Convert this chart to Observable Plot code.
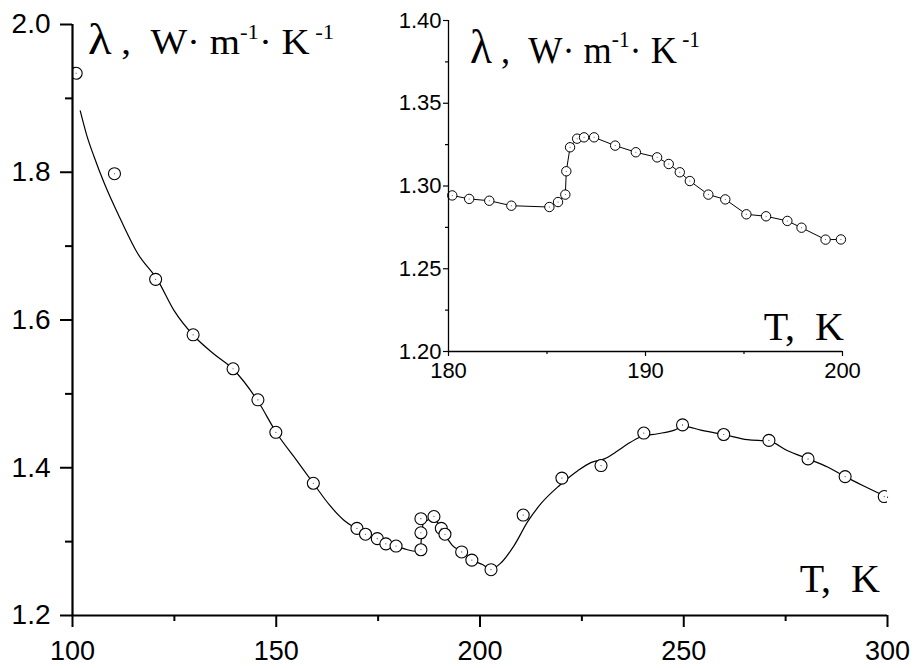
<!DOCTYPE html>
<html><head><meta charset="utf-8">
<script src="https://cdn.jsdelivr.net/npm/d3@7"></script>
<script src="https://cdn.jsdelivr.net/npm/@observablehq/plot@0.6"></script>
<style>
body{margin:0;background:#fff}
#wrap{position:relative;width:914px;height:668px;overflow:hidden}
#wrap svg{position:absolute}
</style>
</head><body><div id="wrap"></div>
<script>
// Main chart: measured points
const mainT = [100.9, 110.3, 120.4, 129.6, 139.4, 145.5, 149.9, 159.1, 169.8, 171.9, 174.8, 176.9, 179.4, 185.5, 185.5, 185.5, 188.7, 190.5, 191.4, 195.5, 198.0, 202.7, 210.6, 220.1, 229.7, 240.2, 249.7, 259.8, 270.9, 280.5, 289.6, 299.2];
const mainL = [1.934, 1.798, 1.655, 1.580, 1.534, 1.492, 1.448, 1.379, 1.318, 1.310, 1.304, 1.297, 1.294, 1.289, 1.312, 1.331, 1.334, 1.318, 1.310, 1.286, 1.275, 1.262, 1.336, 1.386, 1.403, 1.447, 1.458, 1.445, 1.437, 1.412, 1.388, 1.361];
// Main chart: fitted curve
const fitT = [101.9, 103.5, 105.3, 107.8, 111.9, 116.0, 120.9, 124.9, 129.7, 134.7, 139.3, 145.4, 150.2, 155.0, 159.1, 163.0, 166.6, 169.8, 172.0, 175.0, 178.0, 180.0, 182.2, 184.2, 185.3, 185.7, 186.1, 187.1, 188.7, 190.4, 192.0, 193.2, 195.7, 198.1, 200.6, 202.7, 205.1, 208.4, 211.7, 214.9, 219.5, 224.0, 227.2, 230.5, 233.8, 236.2, 239.5, 243.6, 247.7, 250.0, 254.2, 259.8, 265.6, 270.9, 275.5, 280.5, 285.3, 289.6, 294.3, 300.0];
const fitL = [1.883, 1.850, 1.821, 1.785, 1.735, 1.690, 1.654, 1.613, 1.579, 1.554, 1.534, 1.491, 1.446, 1.410, 1.379, 1.350, 1.329, 1.317, 1.309, 1.302, 1.296, 1.293, 1.289, 1.287, 1.287, 1.310, 1.326, 1.329, 1.332, 1.317, 1.304, 1.295, 1.286, 1.275, 1.269, 1.263, 1.271, 1.295, 1.327, 1.351, 1.376, 1.396, 1.407, 1.412, 1.423, 1.432, 1.442, 1.446, 1.451, 1.456, 1.451, 1.445, 1.438, 1.436, 1.423, 1.412, 1.401, 1.388, 1.375, 1.360];
// Inset chart points
const insetT = [180.19, 181.05, 182.07, 183.19, 185.12, 185.56, 185.93, 185.98, 186.17, 186.53, 186.88, 187.39, 188.46, 189.51, 190.59, 191.18, 191.74, 192.25, 193.19, 194.05, 195.12, 196.12, 197.2, 197.92, 199.14, 199.92];
const insetL = [1.2943, 1.2922, 1.2911, 1.2881, 1.2873, 1.2903, 1.2948, 1.3089, 1.3234, 1.3286, 1.3294, 1.3294, 1.3244, 1.3204, 1.3173, 1.3133, 1.3083, 1.3030, 1.2948, 1.2919, 1.2829, 1.2817, 1.2789, 1.2748, 1.2676, 1.2677];
// Ticks
const mainXTicks = [100, 150, 200, 250, 300];
const mainXMinor = [125, 175, 225, 275];
const mainYTicks = [1.2, 1.4, 1.6, 1.8, 2.0];
const mainYMinor = [1.3, 1.5, 1.7, 1.9];
const insetXTicks = [180, 190, 200];
const insetXMinor = [185, 195];
const insetYTicks = [1.20, 1.25, 1.30, 1.35, 1.40];
const insetYMinor = [1.225, 1.275, 1.325, 1.375];
// Labels
const yLabelParts = [["λ", "big"], [" ,  W· m", "norm"], ["-1", "sup"], ["· K", "norm"], [" -1", "sup"]];
const xLabel = "T,  K";

const mainPts = mainT.map((t, i) => ({t, l: mainL[i]}));
const fitPts = fitT.map((t, i) => ({t, l: fitL[i]}));
const insetPts = insetT.map((t, i) => ({t, l: insetL[i]}));

const wrap = document.getElementById("wrap");
const SANS = "'Liberation Sans', Arial, sans-serif";
const SERIF = "'Liberation Serif', 'Times New Roman', serif";

const main = Plot.plot({
  width: 914, height: 668,
  marginLeft: 72, marginRight: 27, marginTop: 24, marginBottom: 53,
  style: {fontFamily: SANS, fontSize: "27px", background: "white", color: "black", overflow: "visible"},
  x: {domain: [100, 300]},
  y: {domain: [1.2, 2.0]},
  marks: [
    Plot.line(fitPts, {x: "t", y: "l", stroke: "black", strokeWidth: 1.2, curve: "monotone-x"}),
    Plot.dot(mainPts, {x: "t", y: "l", r: 6, fill: "white", stroke: "black", strokeWidth: 1.1, clip: true}),
    Plot.dot(mainPts, {x: "t", y: "l", r: 0.6, fill: "#444", stroke: "none", clip: true}),
    Plot.axisX(mainXMinor, {tickSize: 6, strokeWidth: 2, tickFormat: () => "", label: null}),
    Plot.axisX(mainXTicks, {tickSize: 12, tickPadding: 13, strokeWidth: 2, tickFormat: d3.format("d"), label: null, fontSize: 27}),
    Plot.axisY(mainYMinor, {tickSize: 7, strokeWidth: 2, tickFormat: () => "", label: null}),
    Plot.axisY(mainYTicks, {tickSize: 12, tickPadding: 10, strokeWidth: 2, tickFormat: d3.format(".1f"), label: null, fontSize: 28}),
    Plot.ruleY([1.2], {strokeWidth: 2.2}),
    Plot.ruleX([100], {strokeWidth: 2.2})
  ]
});
main.style.left = "0px"; main.style.top = "0px";
wrap.appendChild(main);

const IX = 380;
const inset = Plot.plot({
  width: 500, height: 390,
  marginLeft: 68, marginRight: 38, marginTop: 20, marginBottom: 39,
  style: {fontFamily: SANS, fontSize: "22px", background: "transparent", color: "black", overflow: "visible"},
  x: {domain: [180, 200]},
  y: {domain: [1.2, 1.4]},
  marks: [
    Plot.line(insetPts, {x: "t", y: "l", stroke: "black", strokeWidth: 1}),
    Plot.dot(insetPts, {x: "t", y: "l", r: 4.7, fill: "white", stroke: "black", strokeWidth: 1}),
    Plot.dot(insetPts, {x: "t", y: "l", r: 0.5, fill: "#444", stroke: "none"}),
    Plot.axisX(insetXMinor, {tickSize: 3, strokeWidth: 1.2, tickFormat: () => "", label: null}),
    Plot.axisX(insetXTicks, {tickSize: 5, tickPadding: 6, strokeWidth: 1.2, tickFormat: d3.format("d"), label: null, fontSize: 22}),
    Plot.axisY(insetYMinor, {tickSize: 3, strokeWidth: 1.2, tickFormat: () => "", label: null}),
    Plot.axisY(insetYTicks, {tickSize: 5, tickPadding: 2, strokeWidth: 1.2, tickFormat: d3.format(".2f"), label: null, fontSize: 22}),
    Plot.ruleY([1.2], {strokeWidth: 1.3}),
    Plot.ruleX([180], {strokeWidth: 1.3})
  ]
});
inset.style.left = IX + "px"; inset.style.top = "0px";
wrap.appendChild(inset);

function addYLabel(svg, x, y, size, sup, sx) {
  const g = d3.select(svg).append("g").attr("transform", `translate(${x},${y}) scale(${sx},1)`);
  const t = g.append("text")
    .style("font-family", SERIF).style("font-size", size + "px")
    .attr("fill", "black").attr("text-anchor", "start")
    .style("white-space", "pre");
  let up = false;
  for (const [s, kind] of yLabelParts) {
    const ts = t.append("tspan").text(s);
    const isSup = kind === "sup";
    ts.style("font-size", (kind === "sup" ? sup : kind === "big" ? size * 1.25 : size) + "px");
    if (isSup && !up) { ts.attr("dy", -size * 0.42); up = true; }
    else if (!isSup && up) { ts.attr("dy", size * 0.42); up = false; }
  }
}
function addXLabel(svg, x, y, size) {
  d3.select(svg).append("text").attr("x", x).attr("y", y)
    .style("font-family", SERIF).style("font-size", size + "px")
    .attr("fill", "black").attr("text-anchor", "end")
    .style("white-space", "pre").text(xLabel);
}
addYLabel(main, 88, 54, 36, 21, 1.08);
addXLabel(main, 880, 592, 40);
addYLabel(inset, 470 - IX, 63, 39, 23, 0.93);
addXLabel(inset, 844 - IX, 340, 40);
</script></body></html>
